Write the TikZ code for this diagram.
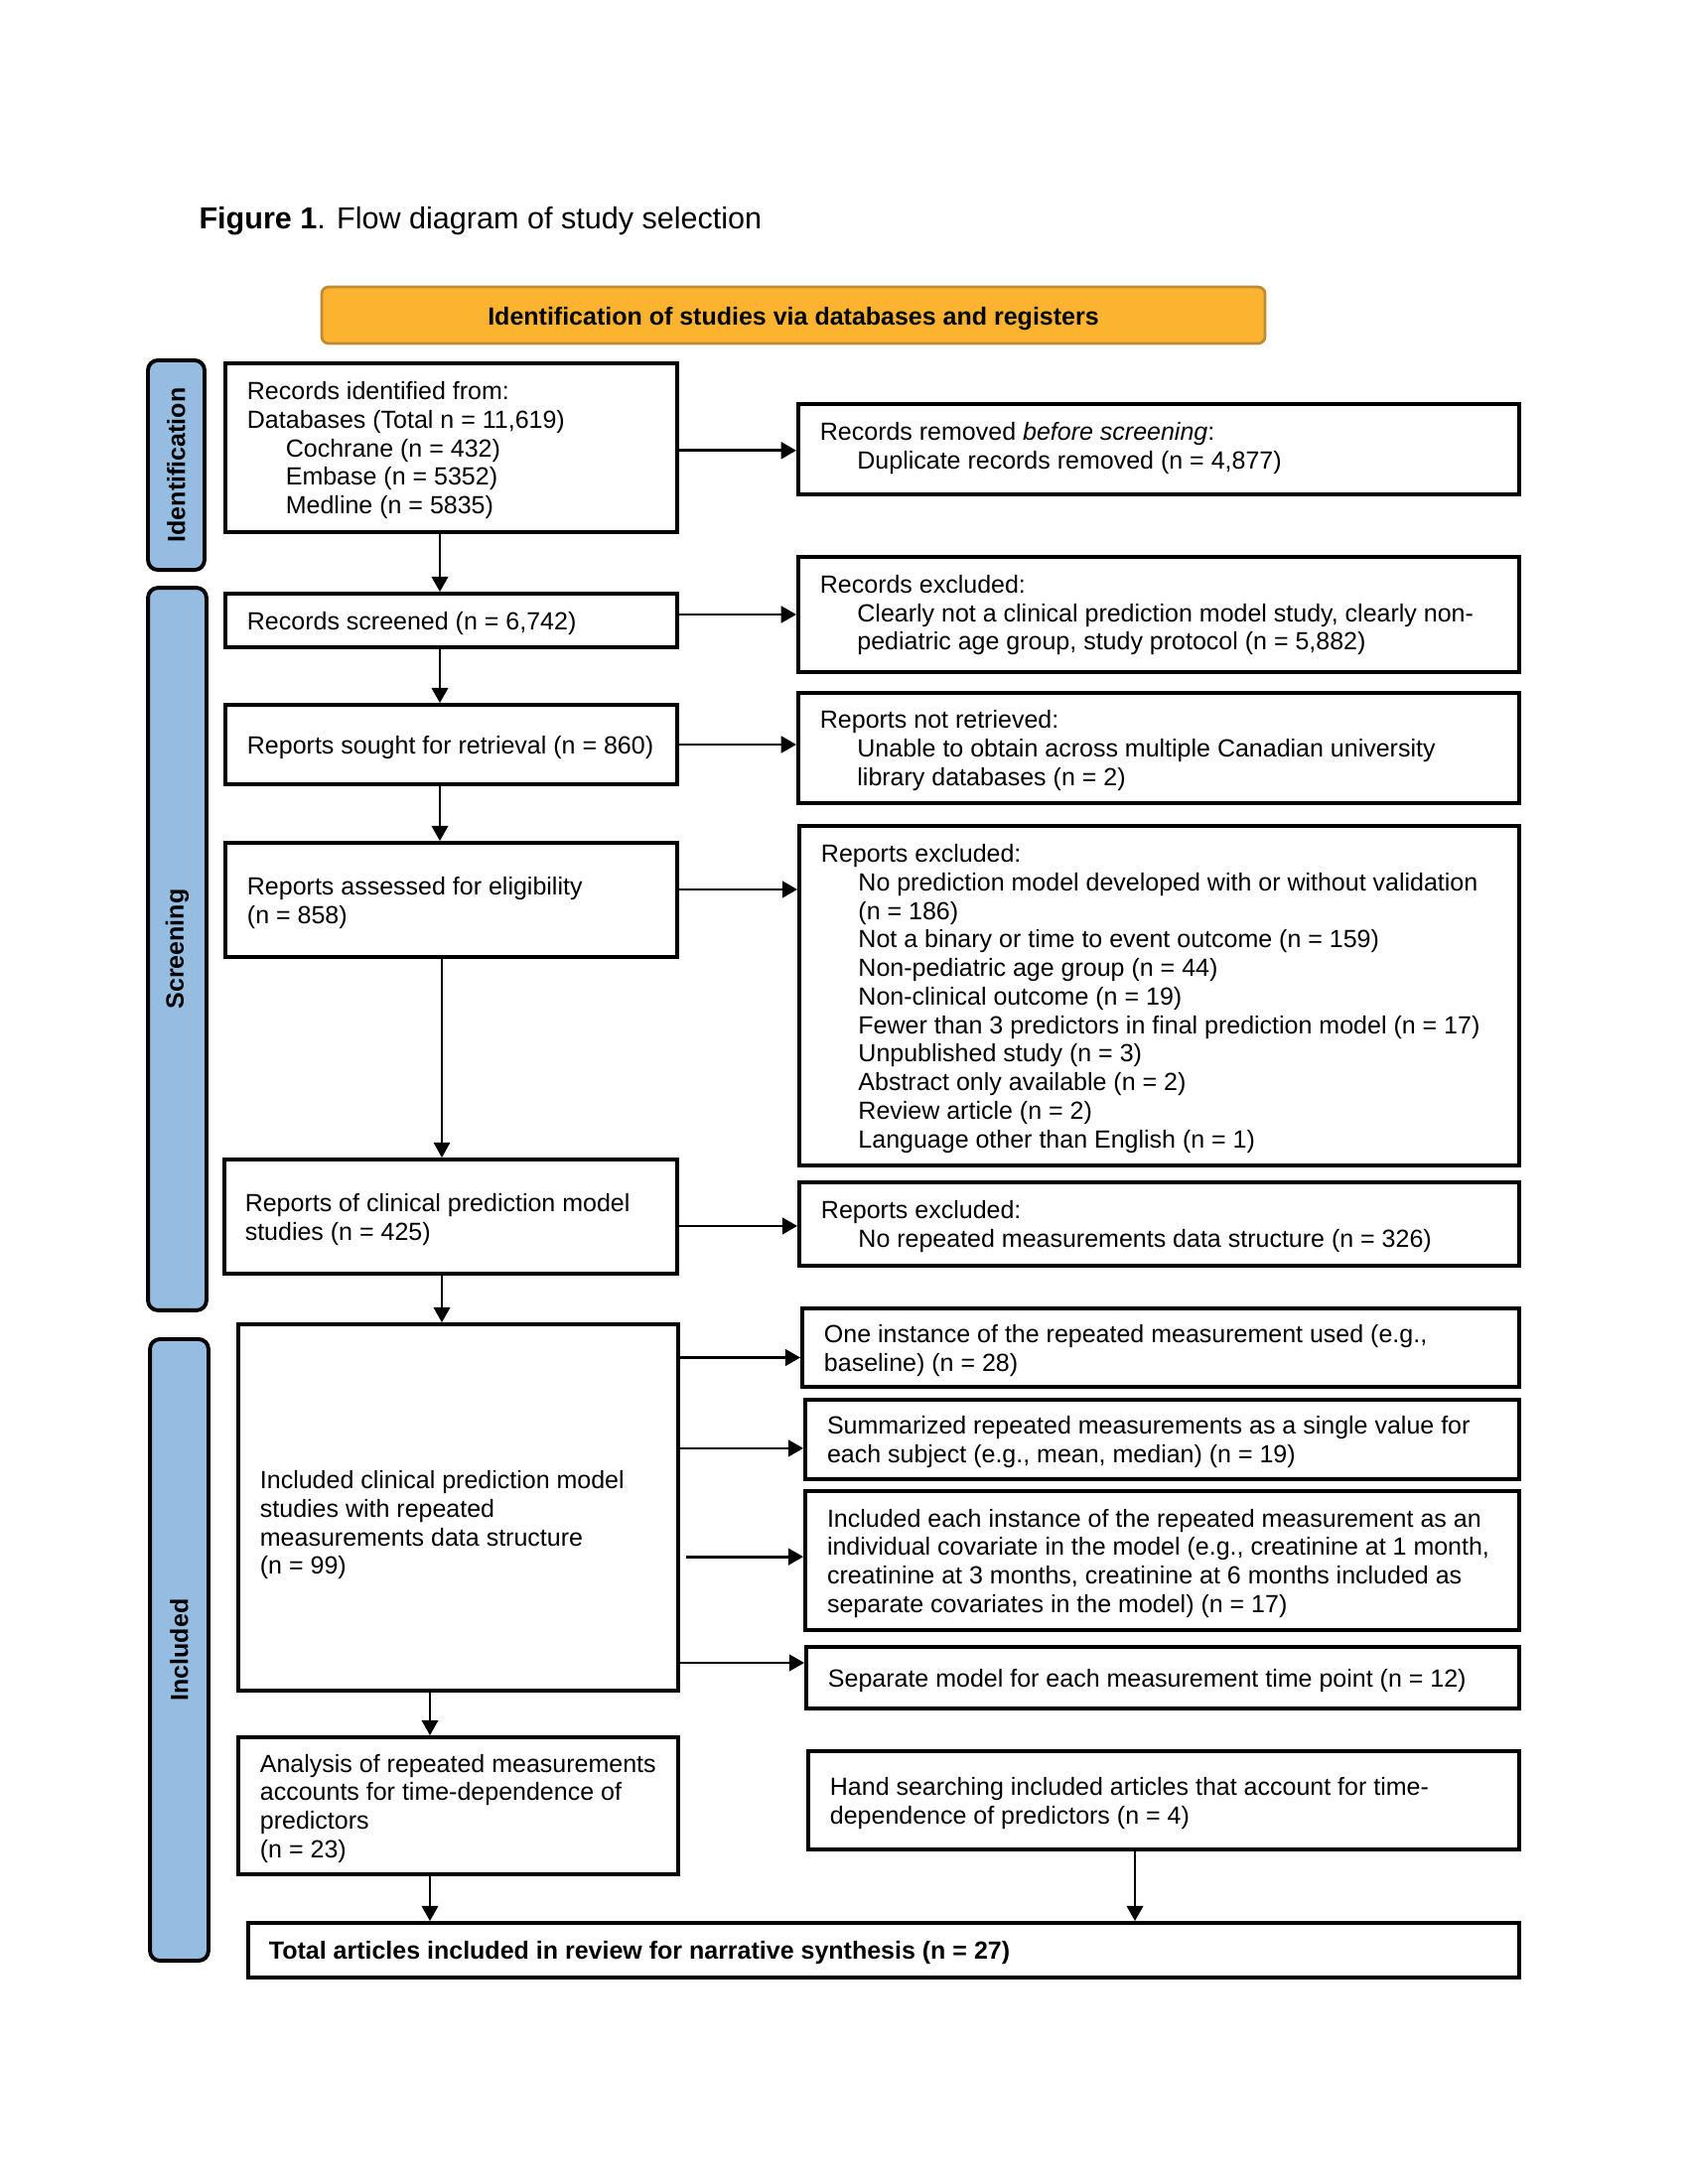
\documentclass[tikz,border=0pt]{standalone}
\usepackage{fontspec}
\setmainfont{Liberation Sans}
\usetikzlibrary{arrows.meta,calc}
\definecolor{sideblue}{RGB}{149,189,225}
\definecolor{headfill}{RGB}{252,180,48}
\definecolor{headdraw}{RGB}{190,138,52}
\newcommand{\ind}{\hspace*{13.5pt}}
\tikzset{
  box/.style={draw, line width=1.4pt, inner sep=0pt},
  txt/.style={anchor=west, align=left, inner sep=0pt, xshift=0.4pt, yshift=-1pt, font=\fontsize{9}{10.35}\selectfont},
  sidebar/.style={draw, line width=1.4pt, fill=sideblue, rounded corners=3.6pt, inner sep=0pt},
  sidelabel/.style={rotate=90, inner sep=0pt, font=\fontsize{9}{10.35}\selectfont\bfseries},
  arr/.style={-{Triangle[length=5.5pt,width=6pt]}, line width=0.7pt},
  harr/.style={-{Triangle[length=5.5pt,width=6pt]}, line width=1pt},
  thinarr/.style={-{Triangle[length=5.5pt,width=6pt]}, line width=0.4pt},
}
\begin{document}
\begin{tikzpicture}[x=0.36pt,y=-0.36pt]
\useasboundingbox (0,0) rectangle (1700,2200);
% title
\node[anchor=base west, inner sep=0pt, font=\fontsize{11}{13}\selectfont] (title) at (200,231) {\textbf{Figure 1}. Flow diagram of study selection};
% header
\node[draw=headdraw, fill=headfill, line width=1pt, rounded corners=2.5pt, minimum width=342pt, minimum height=20.5pt, inner sep=0pt] (head) at (799,317.5) {};
\node[inner sep=0pt, yshift=-1.3pt, font=\fontsize{9}{10.35}\selectfont\bfseries] (headt) at (head) {Identification of studies via databases and registers};
% side bars
\node[sidebar, minimum width=20.5pt, minimum height=76pt] (barI) at (177.5,468.5) {};
\node[sidelabel] (barIt) at (barI) {Identification};
\node[sidebar, minimum width=21.2pt, minimum height=262pt] (barS) at (178.5,956) {};
\node[sidelabel] (barSt) at (barS) {Screening};
\node[sidebar, minimum width=21.2pt, minimum height=225.4pt] (barN) at (180.5,1662) {};
\node[sidelabel] (barNt) at (barN) {Included};
% left column boxes
\node[box, minimum width=163.8pt, minimum height=61.2pt] (A) at (454.5,451) {};
\node[txt] (At) at ([xshift=8pt]A.west) {Records identified from:\\Databases (Total n = 11,619)\\\hspace*{14pt}Cochrane (n = 432)\\\hspace*{14pt}Embase (n = 5352)\\\hspace*{14pt}Medline (n = 5835)};
\node[box, minimum width=163.8pt, minimum height=19.4pt] (C) at (454.5,625) {};
\node[txt] (Ct) at ([xshift=8pt]C.west) {Records screened (n = 6,742)};
\node[box, minimum width=163.8pt, minimum height=28.8pt] (E) at (454.5,750) {};
\node[txt] (Et) at ([xshift=8pt]E.west) {Reports sought for retrieval (n = 860)};
\node[box, minimum width=163.8pt, minimum height=41.4pt] (G) at (454.5,906.5) {};
\node[txt] (Gt) at ([xshift=8pt]G.west) {Reports assessed for eligibility\\(n = 858)};
\node[box, minimum width=164.2pt, minimum height=41.4pt] (I) at (454,1225.5) {};
\node[txt] (It) at ([xshift=7.6pt]I.west) {Reports of clinical prediction model\\studies (n = 425)};
\node[box, minimum width=159.5pt, minimum height=132.8pt] (K) at (461.5,1518.5) {};
\node[txt] (Kt) at ([xshift=8pt,yshift=-5.4pt]K.west) {Included clinical prediction model\\studies with repeated\\measurements data structure\\(n = 99)};
\node[box, minimum width=159.5pt, minimum height=49.7pt] (M) at (461.5,1819) {};
\node[txt] (Mt) at ([xshift=8pt]M.west) {Analysis of repeated measurements\\accounts for time-dependence of\\predictors\\(n = 23)};
% right column boxes
\node[box, minimum width=261.4pt, minimum height=32.8pt] (B) at (1167,452.5) {};
\node[txt] (Bt) at ([xshift=8pt,yshift=1.4pt]B.west) {Records removed \textit{before screening}:\\\ind Duplicate records removed (n = 4,877)};
\node[box, minimum width=261.4pt, minimum height=41.8pt] (D) at (1167,619) {};
\node[txt] (Dt) at ([xshift=8pt,yshift=0.8pt]D.west) {Records excluded:\\\ind Clearly not a clinical prediction model study, clearly non-\\\ind pediatric age group, study protocol (n = 5,882)};
\node[box, minimum width=261.4pt, minimum height=40pt] (F) at (1167,753.5) {};
\node[txt] (Ft) at ([xshift=8pt]F.west) {Reports not retrieved:\\\ind Unable to obtain across multiple Canadian university\\\ind library databases (n = 2)};
\node[box, minimum width=261pt, minimum height=123.1pt] (H) at (1167.5,1003) {};
\node[txt] (Ht) at ([xshift=8pt]H.west) {Reports excluded:\\\ind No prediction model developed with or without validation\\\ind (n = 186)\\\ind Not a binary or time to event outcome (n = 159)\\\ind Non-pediatric age group (n = 44)\\\ind Non-clinical outcome (n = 19)\\\ind Fewer than 3 predictors in final prediction model (n = 17)\\\ind Unpublished study (n = 3)\\\ind Abstract only available (n = 2)\\\ind Review article (n = 2)\\\ind Language other than English (n = 1)};
\node[box, minimum width=261pt, minimum height=30.2pt] (J) at (1167.5,1233) {};
\node[txt] (Jt) at ([xshift=8pt]J.west) {Reports excluded:\\\ind No repeated measurements data structure (n = 326)};
\node[box, minimum width=259.9pt, minimum height=28.4pt] (L1) at (1169,1357.5) {};
\node[txt] (L1t) at ([xshift=8pt]L1.west) {One instance of the repeated measurement used (e.g.,\\baseline) (n = 28)};
\node[box, minimum width=258.8pt, minimum height=28.8pt] (L2) at (1170.5,1450) {};
\node[txt] (L2t) at ([xshift=8pt]L2.west) {Summarized repeated measurements as a single value for\\each subject (e.g., mean, median) (n = 19)};
\node[box, minimum width=258.8pt, minimum height=50.4pt] (L3) at (1170.5,1572) {};
\node[txt] (L3t) at ([xshift=8pt]L3.west) {Included each instance of the repeated measurement as an\\individual covariate in the model (e.g., creatinine at 1 month,\\creatinine at 3 months, creatinine at 6 months included as\\separate covariates in the model) (n = 17)};
\node[box, minimum width=258.5pt, minimum height=22.3pt] (L4) at (1171,1690) {};
\node[txt] (L4t) at ([xshift=8pt]L4.west) {Separate model for each measurement time point (n = 12)};
\node[box, minimum width=257.8pt, minimum height=35.6pt] (N) at (1172,1813.5) {};
\node[txt] (Nt) at ([xshift=8pt]N.west) {Hand searching included articles that account for time-\\dependence of predictors (n = 4)};
% bottom box
\node[box, minimum width=460.8pt, minimum height=19.8pt] (O) at (890,1964.5) {};
\node[txt, font=\fontsize{9}{10.35}\selectfont\bfseries] (Ot) at ([xshift=7.6pt]O.west) {Total articles included in review for narrative synthesis (n = 27)};
% column coordinates
\coordinate (col1) at (443,0);
\coordinate (col2) at (445,0);
\coordinate (col3) at (433,0);
\coordinate (col4) at (1143,0);
% vertical arrows
\draw[arr] (A.south -| col1) -- (C.north -| col1);
\draw[arr] (C.south -| col1) -- (E.north -| col1);
\draw[arr] (E.south -| col1) -- (G.north -| col1);
\draw[thinarr] (G.south -| col2) -- (I.north -| col2);
\draw[arr] (I.south -| col2) -- (K.north -| col2);
\draw[arr] (K.south -| col3) -- (M.north -| col3);
\draw[arr] (M.south -| col3) -- (O.north -| col3);
\draw[arr] (N.south -| col4) -- (O.north -| col4);
% horizontal arrows
\draw[harr] ([yshift=-1pt]A.east) -- ([yshift=-1pt]A.east -| B.west);
\draw[harr] (D.west -| C.east) -- (D.west);
\draw[harr] (E.east) -- (E.east -| F.west);
\draw[harr] ([yshift=3.8pt]G.east) -- ([yshift=3.8pt]G.east -| H.west);
\draw[harr] ([yshift=-0.7pt]J.west -| I.east) -- ([yshift=-0.7pt]J.west);
\draw[harr] ([yshift=-3.6pt]L1.west -| K.east) -- ([yshift=-3.6pt]L1.west);
\draw[harr] ([yshift=-3.2pt]L2.west -| K.east) -- ([yshift=-3.2pt]L2.west);
\draw[harr] ([yshift=1.4pt,xshift=2pt]L3.west -| K.east) -- ([yshift=1.4pt]L3.west);
\draw[harr] ([yshift=5.4pt]L4.west -| K.east) -- ([yshift=5.4pt]L4.west);
\end{tikzpicture}
\end{document}
